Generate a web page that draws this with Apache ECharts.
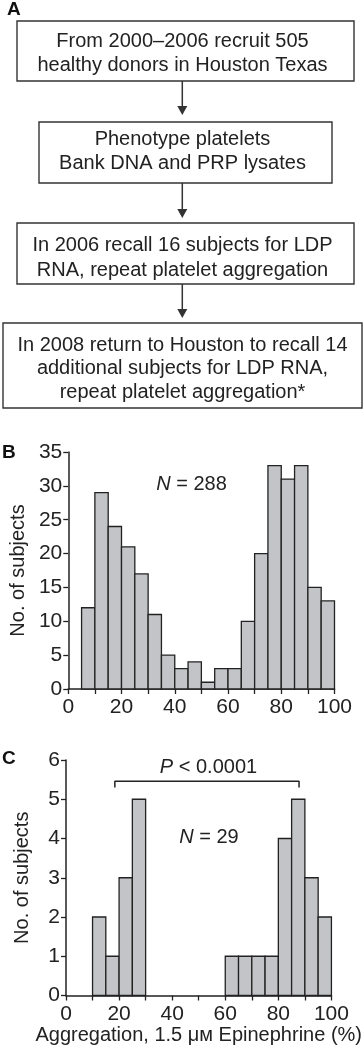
<!DOCTYPE html>
<html>
<head>
<meta charset="utf-8">
<script src="https://cdn.jsdelivr.net/npm/echarts@6/dist/echarts.min.js"></script>
<style>
html,body{margin:0;padding:0;background:#fff;}
#chart{width:364px;height:1050px;}
</style>
</head>
<body>
<div id="chart"></div>
<script>
// ---- Data ----
const flowSteps = [
  ['From 2000–2006 recruit 505', 'healthy donors in Houston Texas'],
  ['Phenotype platelets', 'Bank DNA and PRP lysates'],
  ['In 2006 recall 16 subjects for LDP', 'RNA, repeat platelet aggregation'],
  ['In 2008 return to Houston to recall 14', 'additional subjects for LDP RNA,', 'repeat platelet aggregation*']
];
// Panel B: histogram bins (left edge, right edge) and counts
const bBinStart = [5, 10, 15, 20, 25, 30, 35, 40, 45, 50, 55, 60, 65, 70, 75, 80, 85, 90, 95];
const bBinEnd   = [10, 15, 20, 25, 30, 35, 40, 45, 50, 55, 60, 65, 70, 75, 80, 85, 90, 95, 100];
const bCounts   = [12, 29, 24, 21, 17, 11, 5, 3, 4, 1, 3, 3, 10, 20, 33, 31, 33, 15, 13];
// Panel C
const cBinStart = [10, 15, 20, 25, 60, 65, 70, 75, 80, 85, 90, 95];
const cBinEnd   = [15, 20, 25, 30, 65, 70, 75, 80, 85, 90, 95, 100];
const cCounts   = [2, 1, 3, 5, 1, 1, 1, 1, 4, 5, 3, 2];
// Significance bracket in panel C (x, y in data units)
const bracketX = [18.4, 18.4, 87.8, 87.8];
const bracketY = [5.3, 5.46, 5.46, 5.3];
const xTicks = [0, 20, 40, 60, 80, 100];

const FONT = '"Liberation Sans", Arial, sans-serif';
const INK = '#222';
const BAR_FILL = '#c3c4c8';

function histData(starts, ends, counts) {
  return starts.map((s, i) => [s, ends[i], counts[i]]);
}
function renderBar(params, api) {
  const p0 = api.coord([api.value(0), api.value(2)]);
  const p1 = api.coord([api.value(1), 0]);
  return {
    type: 'rect',
    shape: { x: p0[0], y: p0[1], width: p1[0] - p0[0], height: p1[1] - p0[1] },
    style: { fill: BAR_FILL, stroke: INK, lineWidth: 1.3 }
  };
}

// ---- Flowchart graphics ----
const boxes = [
  { x: 17, y: 21, w: 337, h: 60, lines: [41, 65] },
  { x: 39, y: 122, w: 293, h: 61, lines: [139, 163] },
  { x: 17, y: 223, w: 337, h: 61, lines: [245, 270] },
  { x: 3, y: 323, w: 359, h: 85, lines: [345, 368.5, 392] }
];
const arrows = [[81, 115], [183, 218], [284, 318]];
const graphics = [];
boxes.forEach((b, i) => {
  graphics.push({ type: 'rect', shape: { x: b.x, y: b.y, width: b.w, height: b.h },
    style: { fill: '#fff', stroke: '#333', lineWidth: 1.4 } });
  flowSteps[i].forEach((t, j) => {
    graphics.push({ type: 'text', x: 182.5, y: b.lines[j],
      style: { text: t, font: '20px ' + FONT, fill: INK, align: 'center', verticalAlign: 'middle' } });
  });
});
arrows.forEach(a => {
  graphics.push({ type: 'line', shape: { x1: 182.3, y1: a[0], x2: 182.3, y2: a[1] - 8 },
    style: { stroke: '#333', lineWidth: 1.5 } });
  graphics.push({ type: 'polygon', shape: { points: [[177.3, a[1] - 9], [187.3, a[1] - 9], [182.3, a[1]]] },
    style: { fill: '#333' } });
});
// panel letters
[['A', 7, 9.5], ['B', 2, 453], ['C', 2, 759]].forEach(l => {
  graphics.push({ type: 'text', x: l[1], y: l[2],
    style: { text: l[0], font: 'bold 19px ' + FONT, fill: '#111', align: 'left', verticalAlign: 'middle' } });
});
// annotations
function richN(x, y, rest) {
  graphics.push({ type: 'text', x: x, y: y,
    style: { text: rest, font: '20px ' + FONT, fill: INK, align: 'center', verticalAlign: 'middle',
      rich: { i: { fontStyle: 'italic', fontSize: 20, fontFamily: FONT, fill: INK } } } });
}
richN(191.5, 484.5, '{i|N} = 288');
richN(209, 837, '{i|N} = 29');
richN(208.5, 767, '{i|P} < 0.0001');

function xAxisCfg(gridIndex, withName) {
  return {
    type: 'value', gridIndex: gridIndex, min: 0, max: 100, interval: 10,
    axisLine: { show: true, onZero: false, lineStyle: { color: INK, width: 1.5 } },
    axisTick: { show: true, inside: false, length: 5, lineStyle: { color: INK, width: 1.3 } },
    axisLabel: { show: true, margin: 8, fontSize: 21, fontFamily: FONT, color: INK,
      formatter: v => (xTicks.indexOf(v) >= 0 ? String(v) : '') },
    splitLine: { show: false },
    name: withName ? 'Aggregation, 1.5 μм Epinephrine (%)' : '',
    nameLocation: 'middle', nameGap: 24,
    nameTextStyle: { fontSize: 20, fontFamily: FONT, color: INK }
  };
}
function yAxisCfg(gridIndex, max, interval) {
  return {
    type: 'value', gridIndex: gridIndex, min: 0, max: max, interval: interval,
    axisLine: { show: true, lineStyle: { color: INK, width: 1.5 } },
    axisTick: { show: true, inside: false, length: 5, lineStyle: { color: INK, width: 1.3 } },
    axisLabel: { margin: 6, fontSize: 21, fontFamily: FONT, color: INK },
    splitLine: { show: false },
    name: 'No. of subjects', nameLocation: 'middle', nameGap: 34,
    nameTextStyle: { fontSize: 20, fontFamily: FONT, color: INK }
  };
}

const chart = echarts.init(document.getElementById('chart'), null, { renderer: 'canvas' });
chart.setOption({
  animation: false,
  backgroundColor: '#fff',
  grid: [
    { left: 66, width: 268.5, top: 452, height: 237 },
    { left: 66, width: 268.5, top: 760, height: 235.5 }
  ],
  xAxis: [xAxisCfg(0, false), xAxisCfg(1, true)],
  yAxis: [yAxisCfg(0, 35, 5), yAxisCfg(1, 6, 1)],
  series: [
    { type: 'custom', xAxisIndex: 0, yAxisIndex: 0, renderItem: renderBar,
      encode: { x: [0, 1], y: 2 }, data: histData(bBinStart, bBinEnd, bCounts) },
    { type: 'custom', xAxisIndex: 1, yAxisIndex: 1, renderItem: renderBar,
      encode: { x: [0, 1], y: 2 }, data: histData(cBinStart, cBinEnd, cCounts) },
    { type: 'line', xAxisIndex: 1, yAxisIndex: 1, symbol: 'none', silent: true,
      lineStyle: { color: INK, width: 1.5 },
      data: bracketX.map((x, i) => [x, bracketY[i]]) }
  ],
  graphic: graphics
});
</script>
</body>
</html>
